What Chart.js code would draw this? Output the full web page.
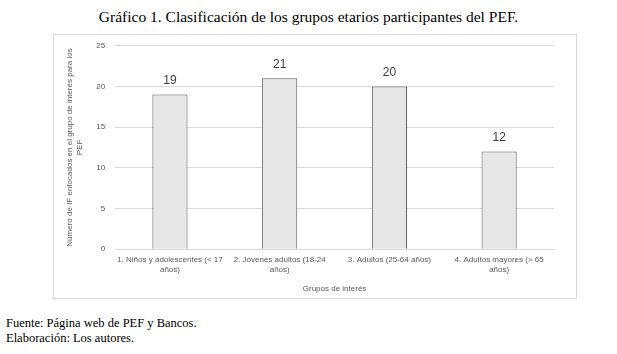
<!DOCTYPE html>
<html>
<head>
<meta charset="utf-8">
<script src="https://cdn.jsdelivr.net/npm/chart.js@4.4.1/dist/chart.umd.min.js"></script>
<style>
  body { margin: 0; background: #fff; width: 617px; height: 354px; position: relative; overflow: hidden; }
  #title { position: absolute; top: 8px; left: 0; width: 617px; text-align: center;
           font-family: "Liberation Serif", serif; font-size: 15.5px; color: #000; }
  #box { position: absolute; left: 53px; top: 34px; width: 522px; height: 263px; border: 1px solid #d9d9d9; }
  #chart { position: absolute; left: 0; top: -4px; }
  #foot { position: absolute; left: 6px; top: 316px; font-family: "Liberation Serif", serif;
          font-size: 12.5px; line-height: 15px; color: #000; }
</style>
</head>
<body>
<div id="title">Gráfico 1. Clasificación de los grupos etarios participantes del PEF.</div>
<div id="box"><canvas id="chart" width="522" height="267"></canvas></div>
<div id="foot">Fuente: Página web de PEF y Bancos.<br>Elaboración: Los autores.</div>
<script>
const categories = [
    ["1. Niños y adolescentes (< 17", "años)"],
    ["2. Jóvenes adultos (18-24", "años)"],
    "3. Adultos (25-64 años)",
    ["4. Adultos mayores (> 65", "años)"]
];
const values = [19, 21, 20, 12];
const yTicks = [0, 5, 10, 15, 20, 25];

// labels above each bar
const barLabels = {
    id: 'barLabels',
    afterDatasetsDraw(chart) {
        const ctx = chart.ctx;
        const meta = chart.getDatasetMeta(0);
        ctx.save();
        ctx.font = '12px "Liberation Sans", sans-serif';
        ctx.fillStyle = '#404040';
        ctx.textAlign = 'center';
        ctx.textBaseline = 'bottom';
        meta.data.forEach((bar, i) => {
            ctx.fillText(values[i], bar.x, bar.y - 8);
        });
        ctx.restore();
    }
};

const font = { family: '"Liberation Sans", sans-serif', size: 8 };

new Chart(document.getElementById('chart'), {
    type: 'bar',
    data: {
        labels: categories,
        datasets: [{
            data: values,
            backgroundColor: '#e7e7e7',
            borderColor: '#595959',
            borderWidth: 1,
            barPercentage: 0.32,
            categoryPercentage: 1
        }]
    },
    options: {
        responsive: false,
        animation: false,
        layout: { padding: { left: 9, right: 22, top: 3, bottom: 4 } },
        plugins: { legend: { display: false }, tooltip: { enabled: false } },
        scales: {
            x: {
                grid: { display: false, drawTicks: false },
                border: { color: '#d9d9d9' },
                ticks: { color: '#595959', font: font, maxRotation: 0, autoSkip: false, padding: 6 },
                title: { display: true, text: 'Grupos de interés', color: '#595959', font: font, padding: { top: 4, bottom: 0 } }
            },
            y: {
                min: 0, max: 25,
                afterBuildTicks(scale) { scale.ticks = yTicks.map(v => ({ value: v })); },
                grid: { color: '#d9d9d9', drawTicks: false },
                border: { display: false },
                ticks: { color: '#595959', font: font, padding: 10 },
                title: {
                    display: true,
                    text: ['Número de IF enfocados en el grupo de interés para los', 'PEF'],
                    color: '#595959', font: font, padding: 2
                }
            }
        }
    },
    plugins: [barLabels]
});
</script>
</body>
</html>
